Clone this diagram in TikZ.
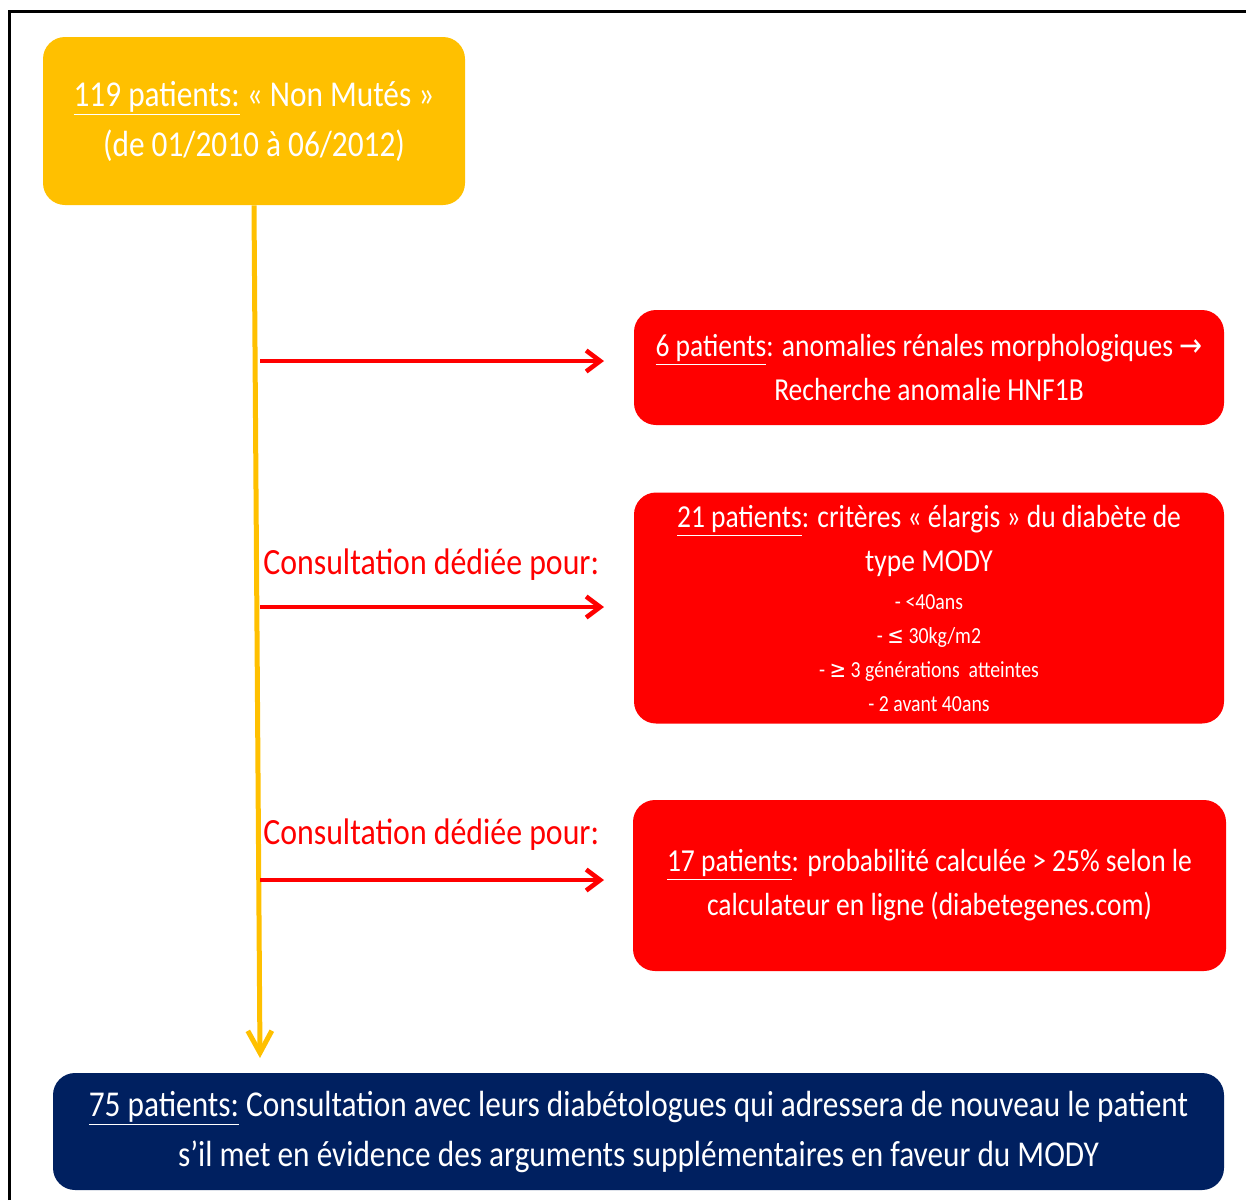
\documentclass[tikz,border=0pt]{standalone}
\usepackage{fontspec}
\setmainfont{Carlito}[FakeStretch=0.86]
\newfontfamily\symf{DejaVu Sans}[FakeStretch=0.86]
\usetikzlibrary{arrows.meta,positioning}
\definecolor{gold}{RGB}{255,192,0}
\definecolor{alarm}{RGB}{255,0,0}
\definecolor{navy}{RGB}{0,32,96}
\newcommand{\bigtxt}{\fontsize{18.2pt}{25pt}\selectfont}
\newcommand{\midtxt}{\fontsize{16pt}{22pt}\selectfont}
\newcommand{\labtxt}{\fontsize{18.5pt}{22pt}\selectfont}
\newcommand{\smalltxt}{\fontsize{11.5pt}{17pt}\selectfont}

\begin{document}
\begin{tikzpicture}[x=0.5pt,y=-0.5pt,
  box/.style={rounded corners=11pt, align=center, text=white, inner sep=0pt},
  ybox/.style={box, fill=gold, font=\bigtxt},
  rbox/.style={box, fill=alarm, font=\midtxt},
  bbox/.style={box, fill=navy, font=\bigtxt},
  trunk/.style={draw=gold, line width=2.5pt, -{Straight Barb[length=11pt,width=12pt]}},
  branch/.style={draw=alarm, line width=2.3pt, -{Straight Barb[length=7pt,width=10.5pt]}},
  lab/.style={anchor=west, text=alarm, font=\labtxt, inner sep=0pt}]
  \useasboundingbox (0,0) rectangle (1246,1200);
  % frame (cut at the right and bottom)
  \draw[line width=1.5pt] (9,1200) |- (1246,11);
  % start box
  \node[ybox, minimum width=211pt, minimum height=84pt] (start) at (254,121)
    {\underline{119 patients:} « Non Mutés »\\(de 01/2010 à 06/2012)};
  % the three dedicated consultations
  \node[rbox, minimum width=295pt, minimum height=57.5pt] (renal) at (929,367.5)
    {\underline{6 patients}: anomalies rénales morphologiques {\symf →}\\Recherche anomalie HNF1B};
  \node[rbox, minimum width=295pt, minimum height=115.5pt] (large) at (929,608)
    {\underline{21 patients}: critères « élargis » du diabète de\\type MODY\\[-3pt]
     \smalltxt - <40ans\\[-5pt]\smalltxt - {\symf ≤} 30kg/m2\\[-5pt]\smalltxt - {\symf ≥} 3 générations\ \ atteintes\\[-5pt]\smalltxt - 2 avant 40ans};
  \node[rbox, minimum width=296.5pt, minimum height=85.5pt] (calc) at (929.5,885.5)
    {\underline{17 patients}: probabilité\ calculée > 25\% selon le\\calculateur en ligne (diabetegenes.com)};
  % the rest
  \node[bbox, minimum width=585.5pt, minimum height=58.5pt] (rest) at (638.5,1131.5)
    {\underline{75 patients:} Consultation avec leurs diabétologues qui adressera de nouveau le patient\\s’il met en évidence des arguments supplémentaires en faveur du MODY};
  \node[lab] (lab1) at (263,565) {Consultation dédiée pour:};
  \node[lab] (lab2) at (263,835) {Consultation dédiée pour:};
  % trunk and branches
  \coordinate (end) at (260,1058);
  \draw[trunk] (start.south) -- (end);
  \coordinate (b1) at (260,361);  \coordinate (e1) at (604,361);
  \coordinate (b2) at (260,607);  \coordinate (e2) at (604,607);
  \coordinate (b3) at (260,880);  \coordinate (e3) at (604,880);
  \draw[branch] (b1) -- (e1);
  \draw[branch] (b2) -- (e2);
  \draw[branch] (b3) -- (e3);
\end{tikzpicture}
\end{document}
